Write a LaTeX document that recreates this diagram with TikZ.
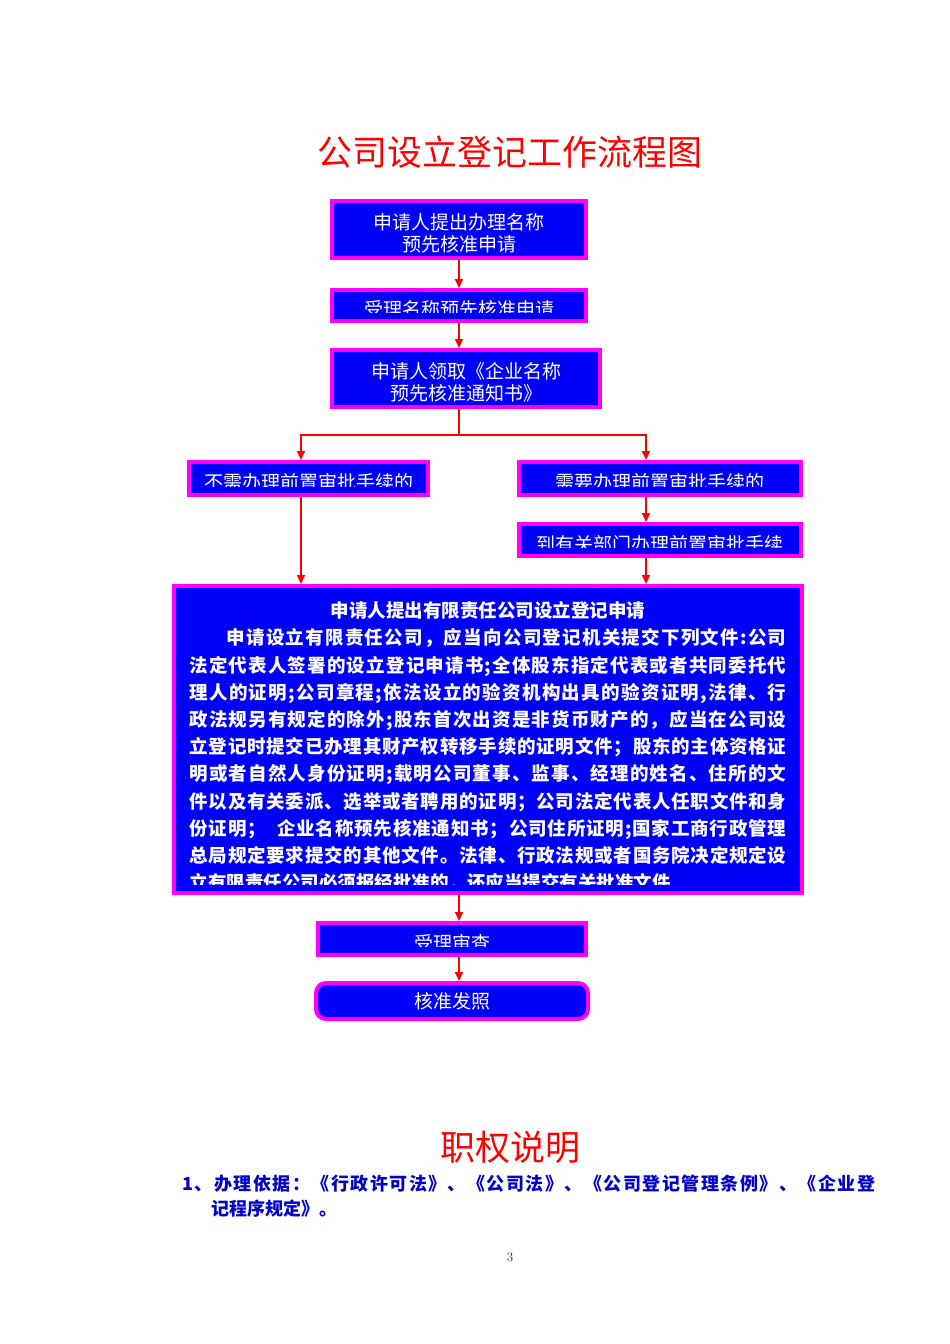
\documentclass[tikz,border=0pt]{standalone}
\usepackage{fontspec}
\usetikzlibrary{arrows.meta}
\newfontfamily\cjk{Noto Sans CJK SC}
\definecolor{boxrim}{RGB}{255,0,255}
\definecolor{boxfill}{RGB}{0,0,250}

% glue between Chinese characters, so that lines can be spread
\XeTeXinterchartokenstate=1
\newXeTeXintercharclass\hanzi
\newcount\hzcount
\hzcount="3000
\loop\ifnum\hzcount<"A000 \XeTeXcharclass\hzcount=\hanzi \advance\hzcount by 1 \repeat
\hzcount="FF00
\loop\ifnum\hzcount<"FFF0 \XeTeXcharclass\hzcount=\hanzi \advance\hzcount by 1 \repeat
\XeTeXinterchartoks\hanzi\hanzi={\hskip0pt plus 3pt\relax}
\XeTeXinterchartoks\hanzi 0={\hskip0pt plus 3pt\relax}
\XeTeXinterchartoks 0\hanzi={\hskip0pt plus 3pt\relax}

\newcommand\regtext{%
{\centering 申请人提出有限责任公司设立登记申请\par}
\hspace*{2em}申请设立有限责任公司，应当向公司登记机关提交下列文件:公司\linebreak
法定代表人签署的设立登记申请书;全体股东指定代表或者共同委托代\linebreak
理人的证明;公司章程;依法设立的验资机构出具的验资证明,法律、行\linebreak
政法规另有规定的除外;股东首次出资是非货币财产的，应当在公司设\linebreak
立登记时提交已办理其财产权转移手续的证明文件；股东的主体资格证\linebreak
明或者自然人身份证明;载明公司董事、监事、经理的姓名、住所的文\linebreak
件以及有关委派、选举或者聘用的证明；公司法定代表人任职文件和身\linebreak
份证明；\hspace{0.6em}企业名称预先核准通知书；公司住所证明;国家工商行政管理\linebreak
总局规定要求提交的其他文件。法律、行政法规或者国务院决定规定设\linebreak
立有限责任公司必须报经批准的，还应当提交有关批准文件}

\begin{document}
\begin{tikzpicture}[x=1pt, y=-1pt,
    flow/.style={draw=boxrim, line width=4pt, fill=boxfill, inner sep=0pt,
      text=white, font=\cjk\fontsize{19}{22}\selectfont, align=center},
    cuttext/.style 2 args={flow, path picture={
        \clip ([yshift=8.5pt]path picture bounding box.south west)
          rectangle (path picture bounding box.north east);
        \node[draw=none, fill=none, path picture={}, minimum width=0pt,
          minimum height=0pt, inner sep=0pt, text=white,
          font=\cjk\fontsize{19}{22}\selectfont, yshift=-4pt, #1]
          at (path picture bounding box.center) {#2};}},
    link/.style={red, line width=1.8pt, -{Triangle[length=9pt, width=8pt]}},
    joint/.style={red, line width=1.8pt}]
  \fill[white] (0,0) rectangle (950,1344);
  \useasboundingbox (0,0) rectangle (950,1344);

  % titles
  \node[red, font=\cjk\fontsize{35}{40}\selectfont] (title) at (510,152) {公司设立登记工作流程图};

  % boxes
  \node[flow, text height=46.5pt, minimum width=254pt, minimum height=57pt] (apply) at (459,229.5) {申请人提出办理名称\\预先核准申请};
  \node[cuttext={}{受理名称预先核准申请}, minimum width=254pt, minimum height=31pt] (accept) at (459,305.5) {};
  \node[flow, text height=46.5pt, minimum width=268pt, minimum height=57pt] (notice) at (466,378.5) {申请人领取《企业名称\\预先核准通知书》};
  \node[cuttext={}{不需办理前置审批手续的}, minimum width=239pt, minimum height=33pt] (noapprove) at (308.5,478.5) {};
  \node[cuttext={}{需要办理前置审批手续的}, minimum width=282pt, minimum height=33pt] (needapprove) at (660,478.5) {};
  \node[cuttext={}{到有关部门办理前置审批手续}, minimum width=282pt, minimum height=32pt] (preapprove) at (660,540) {};
  \node[cuttext={text width=597pt, align=justify, anchor=north, yshift=144pt,
      font=\cjk\bfseries\fontsize{18.5}{27.2}\selectfont}{\regtext},
    minimum width=628pt, minimum height=307pt] (register) at (488,739.5) {};
  \node[cuttext={}{受理审查}, minimum width=268pt, minimum height=32pt] (review) at (452,939) {};
  \node[flow, rounded corners=10pt, minimum width=272pt, minimum height=36pt] (license) at (452,1001) {核准发照};

  % connectors
  \coordinate (spine) at (459,0);
  \coordinate (leftx) at (301,0);
  \coordinate (rightx) at (646,0);
  \coordinate (fork) at (459,435);
  \draw[link] (apply.south -| spine) -- (accept.north -| spine);
  \draw[link] (accept.south -| spine) -- (notice.north -| spine);
  \draw[joint] (notice.south -| spine) -- (fork);
  \draw[link] (fork) -| (noapprove.north -| leftx);
  \draw[link] (fork) -| (needapprove.north -| rightx);
  \draw[link] (noapprove.south -| leftx) -- (register.north -| leftx);
  \draw[link] (needapprove.south -| rightx) -- (preapprove.north -| rightx);
  \draw[link] (preapprove.south -| rightx) -- (register.north -| rightx);
  \draw[link] (register.south -| spine) -- (review.north -| spine);
  \draw[link] (review.south -| spine) -- (license.north -| spine);

  % remarks
  \node[red, font=\cjk\fontsize{35}{40}\selectfont] (duty) at (510,1147) {职权说明};
  \node[anchor=north west, inner sep=0pt, text=blue!80!black, text width=693pt, align=justify,
    font=\cjk\bfseries\fontsize{18}{25}\selectfont] (basis) at (182,1175)
    {1、办理依据：《行政许可法》、《公司法》、《公司登记管理条例》、《企业登\linebreak
     \hspace*{1.6em}记程序规定》。};
  \node[text=black!80, font=\fontsize{13}{15}\selectfont] (page) at (510,1257) {3};
\end{tikzpicture}
\end{document}
